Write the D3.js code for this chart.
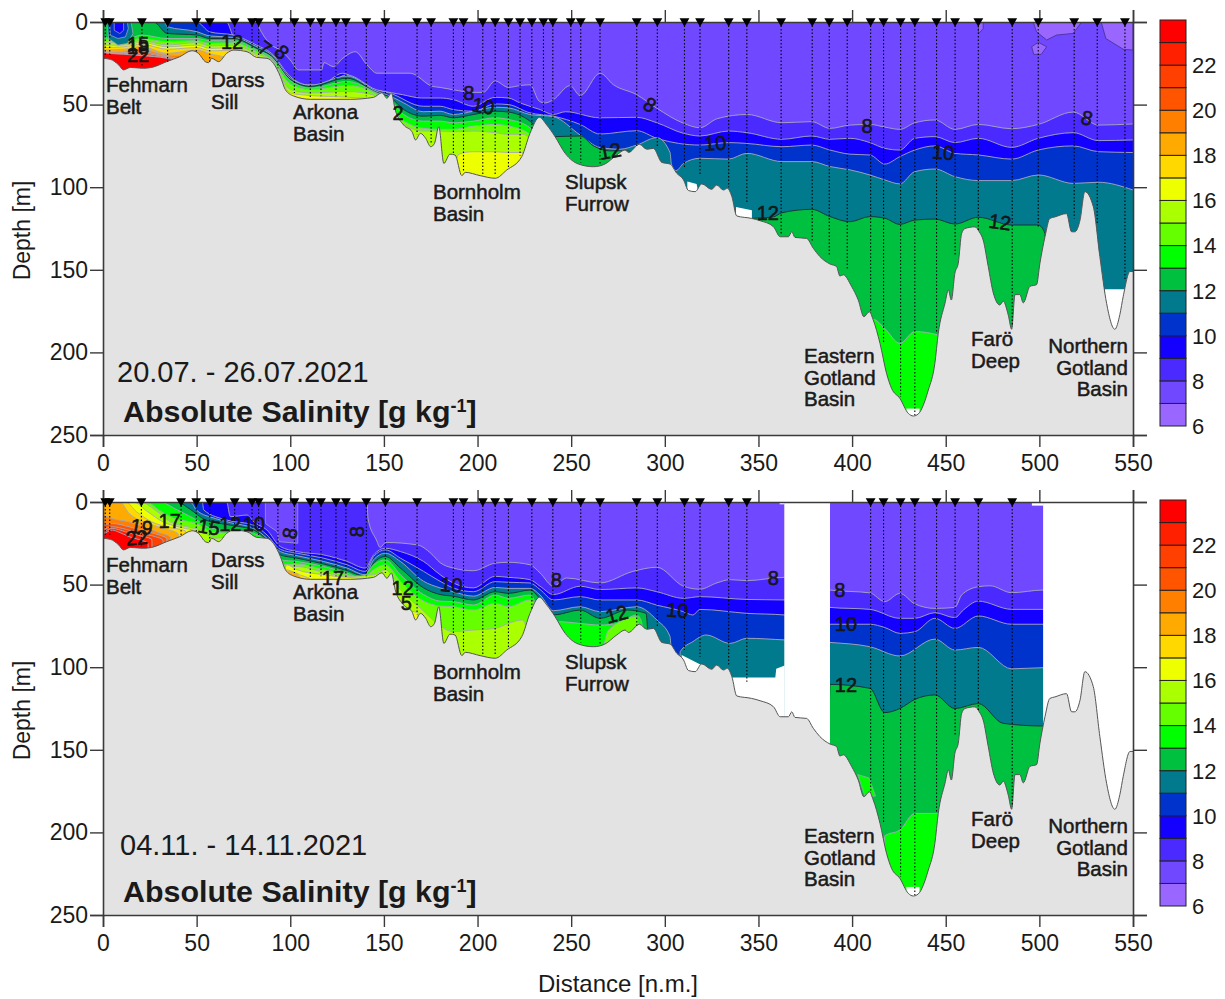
<!DOCTYPE html>
<html>
<head>
<meta charset="utf-8">
<script src="https://cdn.jsdelivr.net/npm/d3@7"></script>
<style>
body { margin: 0; background: #fff; }
text { font-family: "Liberation Sans", Arial, sans-serif; fill: #1a1a1a; }
</style>
</head>
<body>
<div id="chart"></div>
<script>
// bands of the colour scale, one per g/kg from 6 to 24
const bandColors = ["#9966ff","#7048ff","#4a2aff","#1400ff","#0033cc","#007a8c","#00c040","#00ff00","#66ff00",
    "#aaff00","#eeff00","#ffd800","#ffaa00","#ff8000","#ff5500","#ff4000","#ff2000","#ff0000"];
const legendTicks = [6,8,10,12,14,16,18,20,22];
const distTicks = [0,50,100,150,200,250,300,350,400,450,500,550];
const depthTicks = [0,50,100,150,200,250];

// sea floor [n.m., m]
const bathy = [[0,22],[3.9,22.6],[8.4,26],[11,29],[14.6,27.5],[21.7,28],[26,27.5],[34,24],[41,21],[47.5,17.4],[51,19],[54.6,24],[56.4,24.6],[58,22],[61.8,24],[66,19],[69.8,17],[76.9,18],[82,21.4],[87.6,22],[91,25],[94.7,33],[97.4,41],[101.8,44.8],[110.7,46.8],[132,46.8],[144.5,45.6],[149,42.8],[151.6,46.2],[154,43],[156,53],[160.6,62.4],[165,66.4],[166.9,71.4],[169.5,67.4],[172.3,70.4],[175,75.5],[177,73.5],[179.3,63.4],[182,85.6],[185.3,80],[188,80.5],[191.6,93],[193.4,91],[201.4,93],[209.4,94.6],[215.6,89.6],[223.6,81.5],[228,67.4],[233,57.7],[237,62.4],[241.4,69.4],[246.8,79.5],[253.9,86],[261.9,87.6],[268,86],[274.3,80.5],[278.8,77.5],[280.6,79],[286.4,74],[290.4,77],[293.9,76.5],[298.4,85],[302.8,86],[306.4,91.6],[310,95.6],[312.6,102],[316.2,102.7],[319.7,98],[325,101.3],[327.7,98.7],[331.3,101.7],[333.4,100.7],[335.8,105.7],[338.4,117.4],[346.4,118.9],[350.9,120.3],[358,123.9],[361.6,130],[366,130],[367.8,127],[369.5,130.4],[375.7,131],[379.3,137],[382.8,142],[388.2,146.5],[391.7,148],[393.5,153.8],[395.3,153],[399.7,160],[403.3,168.3],[406.3,178.4],[409.2,175.4],[411.3,180.4],[414.9,194.5],[418.4,212.7],[421.1,221.8],[425.5,227.8],[430,236.9],[432.7,238.5],[435.3,237.3],[440.7,222.8],[444.2,206.6],[446,188.5],[449.6,170.3],[451.4,162.2],[453,168.3],[454.9,152],[456.7,146],[458.5,128],[460.3,125],[465.6,124],[467.9,127],[470,132],[472.7,148],[475.4,164],[478.9,171.3],[480.7,169],[483.4,177.4],[485.2,186],[487,165],[489.6,165],[491.4,170],[495,160],[498.5,159],[500.3,146],[503,130],[505.6,118.9],[508.3,118],[514.5,116],[517.2,127],[519,127],[521.7,120],[524.3,102.7],[528.8,111.8],[532.3,142],[535.9,170.3],[540.3,186],[543,177],[544.8,166],[548.4,151],[550,151]];

// upper panel: depth of each isohaline [n.m., m]
const a8 = [[0,0],[82,0],[84,4.8],[90,14],[94.7,17],[100,23],[104.4,29],[116.7,29],[118,24.6],[123,27],[128,22],[134.7,18],[141,26],[146.3,31],[164,31],[176,39],[180,39.6],[187,41],[197.8,42.6],[203,42.6],[209.4,35.7],[216.5,39.6],[222.7,38.5],[228,38],[233,48],[236,49],[240.5,47],[249.4,38.5],[254.8,44.6],[265.4,31],[272.6,38],[285,44],[295.7,52.2],[310,61.3],[318.8,64],[328,58.5],[344,56],[362.5,61],[378.4,60.3],[388.2,64.4],[398.8,62.4],[409.5,62],[417.5,63.6],[425.5,65],[433.5,61],[444.2,59.3],[454.9,65],[467.4,62],[485.2,64.6],[499.4,62],[518.1,54.5],[531.5,62.4],[550,61.7]];
const a9 = [[0,0],[66,0],[69.8,9],[79,13],[86,18],[91.5,25],[98.5,32],[109,38],[116,38],[128,31],[141,40],[150,42],[160,44],[170,46],[180,46],[187,47],[197.8,51],[209.4,45.6],[216.5,46],[222.7,49],[233.4,53],[240.5,56],[247,54.3],[265.4,58],[285,57.7],[295.7,61],[310,67.4],[318.8,69],[334,66],[343.8,67],[362.5,71],[378.4,69],[388.2,71],[398.8,70.4],[409.5,73],[417.5,76.5],[425.5,77.5],[433.5,70.4],[444.2,69.4],[454.9,73],[467.4,70.4],[485.2,75.9],[499.4,70.4],[518.1,67],[531.5,71.8],[550,71.4]];
const a10 = [[0,0],[50,0],[57,6],[70,8],[82,14],[90,19],[100,33],[110,39],[118,39],[130,32],[146,41],[153,43],[171,51],[180,51],[187,53],[197.8,54],[209.4,49.6],[216.5,50],[228,55],[240.5,57],[254.8,62],[265.4,67.8],[285,65.8],[295.7,70.4],[318.8,74.5],[334,73],[343.8,73.5],[362.5,75.5],[378.4,74.5],[388.2,77.5],[398.8,80],[409.5,80.5],[417.5,86],[425.5,81.5],[433.5,77.5],[444.2,75],[454.9,79.5],[467.4,80.5],[485.2,83],[499.4,77.5],[518.1,75],[531.5,78.5],[550,79]];
const a11 = [[0,0],[33,0],[34.2,2.8],[50.2,5.9],[57.3,8.5],[69.8,9.3],[82.2,15],[90.2,20],[100,34],[110.7,38.3],[130.3,32.7],[146.3,42],[153.4,44.8],[160.6,49],[171,54.3],[180,54],[187,56],[197.8,54],[209.4,51.6],[216.5,52],[228,56],[240.5,57.3],[254.8,68.4],[265.4,76],[276,77],[285,74.5],[295.7,70],[302.8,79],[303.5,86],[306,90],[310,85.6],[318.8,82.5],[334,83],[343.8,79.5],[362.5,84.5],[378.4,84.5],[388.2,87.5],[398.8,89.5],[409.5,92.6],[417.5,95.6],[425.5,98],[433.5,90.6],[444.2,89],[454.9,93.6],[467.4,96],[485.2,96],[499.4,92.6],[518.1,97.7],[531.5,97],[550,101.7]];
const a12 = [[0,0],[27,0],[34.2,6.9],[50.2,7.9],[57.3,10],[69.8,10],[82.2,16],[90,20.6],[100,34.7],[110.7,39],[130.3,34],[146.3,42.8],[153.4,45.6],[160.6,53],[171,57],[180,56.5],[187,58],[197.8,56],[209.4,54],[216.5,54.5],[228,60],[233,65],[240.5,69.4],[254.8,69],[262,75],[270,78],[280,78],[286,85],[300,200],[345,200],[346.4,119],[358,118],[362.5,115.5],[378.4,113.4],[388.2,117.8],[398.8,120.9],[409.5,117.8],[417.5,118.8],[425.5,122.5],[433.5,119.9],[444.2,119.3],[454.9,122.3],[467.4,118.2],[485.2,122.9],[499.4,122.9],[503,128],[504,260],[550,260]];
const a13 = [[0,9],[11,10.9],[20.8,7.9],[34.2,10],[50.2,10],[57.3,11.3],[69.8,11.3],[82.2,17],[90,21.4],[100,35.5],[110.7,40],[130.3,36],[146.3,43],[153.4,47],[160.6,56],[171,60],[180,60],[187,61],[197.8,60],[209.4,58],[216.5,59],[228,64],[232,75],[233,260],[410,260],[411.3,180],[417.5,185.6],[425.5,194.5],[433.5,187.4],[446,189.5],[447,260],[550,260]];
const a14 = [[0,10],[11,12],[20.8,10],[34.2,12],[50.2,11.3],[57.3,13],[69.8,12.5],[82.2,18],[90,22.6],[100,37.5],[110.7,41],[130.3,38.4],[146.3,43.8],[160.6,60],[171,64.4],[180,65],[187,65],[197.8,63],[209.4,62],[216.5,63],[228,68],[233,75],[234,260],[550,260]];
const a15 = [[0,12],[11,12.9],[20.8,11.3],[34.2,13.9],[50.2,12.5],[57.3,14.5],[69.8,14],[82.2,19.4],[90,23],[100,40.8],[110.7,43],[130.3,42],[146.3,44.8],[160.6,62],[171,66],[180,66],[187,66.5],[197.8,66],[209.4,67],[216.5,68],[224,68],[233,80],[234,260],[550,260]];
const a16 = [[0,14],[11,14],[20.8,12.3],[34.2,15],[50.2,14],[57.3,16],[69.8,15.5],[82.2,20.5],[92,27],[100,43],[110.7,44.5],[130.3,45.5],[146,47],[150,60],[175,85],[180,85],[187,88],[190,80],[197.8,78.5],[209.4,78.5],[216.5,79],[224,79],[226,100],[227,260],[550,260]];
const a17 = [[0,15.5],[11,15],[20.8,13.5],[34.2,16.5],[50.2,15.5],[57.3,17.5],[69.8,17],[82,23],[92,40],[100,50],[150,60],[151,260],[550,260]];
const a18 = [[0,17],[11,16.5],[20.8,15],[34.2,19],[50.2,17],[57.3,19.3],[66,22],[70,40],[71,260],[550,260]];
const a19 = [[0,18.5],[11,17.8],[20.8,16.5],[34.2,20],[45,20.5],[50,25],[55,30],[56,260],[550,260]];
const a20 = [[0,19],[11,18.5],[20.8,18],[34.2,21],[40,22],[42,260],[550,260]];
const a21 = [[0,19.5],[11,19],[20.8,19],[34.2,21.5],[40,23],[42,260],[550,260]];
const a22 = [[0,20],[11,19.5],[20.8,20],[34.2,22],[40,23.5],[42,260],[550,260]];
const a23 = [[0,18.5],[3,19],[11,19.5],[20.8,20.4],[34.2,22],[41,24],[43,260],[550,260]];

// lower panel
const b8 = [[0,0],[141,0],[141.5,10],[146,23],[148,27.5],[151,24.5],[168,26],[175,31],[180,36.7],[187,40],[197.8,41.6],[209.4,37],[216.5,36.5],[228,38],[233.4,43],[240.5,51],[247.6,46],[265.4,49],[283,42],[295.7,39.5],[310,51],[318.8,52.8],[327.7,49],[334.9,47],[343.8,47.6],[364,45.6],[388.2,53.3],[409.5,55],[417.5,60.3],[425.5,55.3],[433.5,61.7],[444.2,64.4],[454.9,63.8],[458.5,56.3],[467.4,51.3],[473.6,50.7],[485.2,54.9],[502,53.3],[550,53.3]];
const b9 = [[0,0],[66,0],[68,8.9],[76.9,7.9],[80.5,12],[87.6,17],[94.7,27],[103.6,30],[117.8,32],[130.3,36],[140,40],[144.5,32],[150.8,28],[158.8,30],[171.2,36],[180,44],[187,49],[197.8,52],[209.4,45],[216.5,45.6],[228,47],[233.4,51],[240.5,56],[254.8,51],[265.4,53],[285,52],[295.7,54.3],[310,58.3],[318.8,57.3],[343.8,59],[364,59.3],[388.2,63.8],[409.5,65],[425.5,70.4],[433.5,70.4],[444.2,67],[454.9,70],[459.4,65.4],[467.4,60],[485.2,65],[502,65],[550,65]];
const b10 = [[0,0],[53,0],[53.8,4.8],[66,10.9],[80.5,14],[87.6,20],[94.7,28.6],[103.6,31],[117.8,34],[130.3,38],[140,42],[144.5,33],[150.8,29],[158.8,34],[171.2,42],[180,48],[187,52],[197.8,54.3],[209.4,48.2],[216.5,48.6],[228,49],[233.4,53],[240.5,59.3],[254.8,57.3],[265.4,59.3],[285,59.3],[295.7,62.4],[310,66.4],[315,68.4],[318.8,65],[343.8,67.4],[364,68.4],[388.2,74],[409.5,74],[417.5,76],[425.5,79.5],[433.5,78.5],[444.2,70.4],[454.9,76.5],[467.4,69],[485.2,74],[502,74],[550,74]];
const b11 = [[0,0],[46.6,0],[50,5],[60,10],[68,12.5],[80.5,16],[87.6,22],[94.7,30],[103.6,32.5],[117.8,36],[130.3,40],[140,44],[144.5,35],[150.8,31],[158.8,36],[171.2,48],[180,52],[187,54.3],[197.8,57],[209.4,51.7],[216.5,52.3],[228,52.3],[233.4,56.3],[240.5,65.8],[254.8,63.4],[265.4,66.4],[285,63.4],[295.7,71.4],[302.8,81.5],[304,100],[308,100],[308.2,90.6],[315,84.5],[322,80.5],[334.9,85.6],[343.8,82.5],[364,83.5],[388.2,85],[409.5,87.6],[425.5,93.2],[444.2,83],[454.9,89.6],[467.4,88],[485.2,101],[502,100.3],[550,100.3]];
const b12 = [[0,0],[39.5,0],[46,4],[55,11],[68,14],[80.5,17],[87.6,23],[94.7,32],[103.6,34],[117.8,37.5],[130.3,41.5],[140,45],[144.5,37],[150.8,33],[158.8,40],[171.2,52],[180,56],[187,57],[197.8,59.3],[209.4,54.3],[216.5,55.3],[228,53.3],[233,58],[240.5,68.4],[254.8,65.4],[265.4,70.4],[280,65.4],[290,67.4],[292,100],[340,200],[387,200],[388.2,110.4],[409.5,112.8],[417.5,127.5],[425.5,125],[433.5,119.5],[444.2,116.8],[454.9,125],[467.4,122],[480.7,134],[502,135.6],[550,135.6]];
const b13 = [[0,0],[30,0],[40,5],[50,10.9],[58,16],[68,17],[80.5,19],[88,25],[94.7,35],[103.6,36],[117.8,39],[130.3,43],[138,46],[144.5,38],[150.8,35],[158.8,44],[171.2,56],[180,60],[187,60.3],[197.8,62.4],[209.4,56.3],[216.5,58.3],[228,56.3],[231,62],[232,260],[242,260],[243,72.4],[254.8,73.5],[265.4,74.5],[275,73.5],[285,68.4],[287.5,72.4],[290,100],[400,260],[416,260],[417.5,202],[425.5,198.6],[433.5,188.5],[446,188.5],[447,260],[550,260]];
const b14 = [[0,0],[23,0],[30,5],[38,10],[50,13],[58,18],[68,19],[80,21],[88,27],[94.7,38],[103.6,37.5],[117.8,41],[130.3,44],[138,47],[144.5,41],[150.8,38],[158.8,48],[171.2,60],[180,63],[187,63.4],[197.8,65.4],[209.4,61.4],[216.5,63.4],[228,59.3],[232,65],[233.5,100],[264,100],[270,77.5],[285,69.4],[287,100],[288,260],[550,260]];
const b15 = [[0,0],[20,0],[28,5],[36,12],[45,15],[52,17],[60,22],[68,21],[80,23],[90,30],[96,40],[103.6,39],[117.8,42.5],[130.3,45],[144.5,44],[150.8,41],[158.8,53],[171.2,66],[180,75],[187,78.5],[197.8,77.5],[209.4,76.5],[216.5,73.5],[224,71.4],[229,100],[230,260],[550,260]];
const b16 = [[0,0],[16,0],[24,6],[32,12],[42,15.5],[50,18],[60,60],[92,100],[98,38],[103.6,41],[117.8,44],[124,45],[135,46],[145,48],[146,60],[160,68],[163,66],[168,67],[170,260],[550,260]];
const b17 = [[0,0],[12,0],[18,6],[26,12],[36,15.5],[44,17.5],[46,60],[94,60],[97,41],[105,44],[112,48],[113,260],[550,260]];
const b18 = [[0,0],[9,0],[14,7],[22,12],[32,16],[40,19],[42,60],[96,60],[99,42],[104,44],[108,60],[109,260],[550,260]];
const b19 = [[0,8],[5,10],[14,12],[22,15],[30,18.5],[36,21],[38,260],[550,260]];
const b20 = [[0,14],[5,13],[14,15],[22,17.5],[30,20],[34,22],[36,260],[550,260]];
const b21 = [[0,17],[5,15],[12,16.5],[20,19],[28,21],[32,23],[34,260],[550,260]];
const b22 = [[0,19],[5,16],[12,18],[20,20.5],[26,22.5],[28,260],[550,260]];
const b23 = [[0,20],[5,17],[8,18],[14,21],[20,23],[24,25],[26,260],[550,260]];

// closed water bodies: [salinity band, outline]
const aPatches = [
    [11, [[2,0],[3,10],[8,14],[13,13],[16,7],[15,0]]],
    [10, [[3.5,0],[4,8],[8,10],[12,9],[13.5,4],[13,0]]],
    [9, [[6,0],[6,5],[9,7],[11,5],[11,0]]],
    [6, [[467.4,0],[467.6,7],[470,4],[470,0]]],
    [6, [[496.7,0],[498.5,5.9],[503.9,10.9],[509.2,7.9],[518.1,6.9],[522.6,0]]],
    [6, [[495.9,15],[499.4,12.3],[503.9,15],[501,19.6],[497,19.6]]],
    [6, [[533,0],[535.5,10],[544.8,16.5],[550,17],[550,0]]]
];
const bPatches = [
    [7, [[86.7,0],[86.7,13],[93,18],[94,24],[104,25],[104,0]]],
    [13, [[403,165],[409,167],[412.5,178],[407,178.5]]]
];

// no data
const aGaps = [
    [[312,96.5],[317,98],[319,110],[312,110]],
    [[338,112],[346.5,114],[346.5,125],[338,125]],
    [[535,161.8],[546,161.8],[546,195],[535,195]],
    [[429,234],[436,234],[436,240],[429,240]]
];
const bGaps = [
    [[363.8,-2],[388.2,-2],[388.2,252],[363.8,252]],
    [[502,-2],[550,-2],[550,252],[502,252]],
    [[361.3,-2],[364,-2],[364,1.4],[361.3,1.4]],
    [[496,-2],[502,-2],[502,2.2],[496,2.2]],
    [[309,92.6],[320,99],[335.5,106.2],[359,106.2],[359.5,101],[364,99],[364,260],[309,260]],
    [[429,233],[436,233],[436,240],[429,240]]
];

// stations: position and cast depth
const aStations = [1.2,3.6,20.8,34.5,49.8,57,70.3,79.6,83.1,93.4,102.2,110.7,116.4,124.4,129.7,140.6,150.8,167.7,175.2,187.1,192.5,202.8,209.4,216.5,222.7,229,235.2,240.2,249.8,255.1,265.4,285,296,310.5,318.8,334.1,343.8,362.1,378.7,387.8,397.4,409.9,416.8,425.9,433.5,445.1,455,467.4,485.5,499.4,518.6,530.9,545.7];
const aCasts = [20,20,27,24,18,24,17,18,20,28,43,46.5,45,45,46,45,43,68,74,80,90,92,93,88,81,65,58,63,80,85,86,75,76,88,93,100,110,128,133,142,150,176,194.5,227,238,188.5,142,126,184.5,124,119,122,156];
const bStations = [1.2,3.6,20.5,41.7,49.8,57,70.3,79.6,83.1,93.4,102.2,110.7,116.4,124.4,129.7,140.6,150.8,167.7,187.1,192.5,202.8,209.4,216.5,229,240.2,255.1,265.4,285,296,310.5,318.8,334.1,343.8,409.9,416.8,425.9,433.5,445.1,455,467.4,485.5];
const bCasts = [20,20,27,20,18,24,17,18,20,28,43,46.5,45,45,46,45,43,68,80,90,92,93,88,65,63,85,86,75,76,89.6,93.6,98.7,108.8,176,194.5,227,238,188.5,142,126,184.5];

// contour labels: text, n.m., m, rotation
const aContourLabels = [["15",18.7,13,0],["18",18.7,15,0],["22",18.7,20,0],["12",68.9,12,0],["7",86.5,15.7,35],["8",95.6,18,45],["2",157.5,55,0],["8",195.4,43,0],["10",203,50.8,10],["12",270.7,78,-10],["8",292,50,30],["10",326.8,73.3,-3],["12",355,115.6,0],["8",408,63,0],["10",448.6,78.7,5],["12",479,121,8],["8",525.4,58,15]];
const bContourLabels = [["19",20.6,15,10],["22",18,21.6,-5],["17",35.6,11.3,0],["15",56.6,15,10],["12",68,13,0],["10",80.5,13,0],["8",99.7,19,-80],["8",135.6,18,-90],["17",122.8,45.6,0],["12",160,52,0],["5",162,61,0],["10",186,50,5],["8",242,46.8,0],["12",274.3,67.8,-15],["10",306.7,65.4,5],["8",358,46,0],["8",393.5,53.3,0],["10",396.7,74,0],["12",396.7,110.4,0]];

// basin names: lines, n.m., m of first baseline, anchor
const basinNames = [[["Fehmarn","Belt"],1.6,43,"start"],[["Darss","Sill"],57.7,40,"start"],[["Arkona","Basin"],101.5,59.3,"start"],[["Bornholm","Basin"],176.2,108,"start"],[["Slupsk","Furrow"],246.7,101.7,"start"],[["Eastern","Gotland","Basin"],374.3,207,"start"],[["Farö","Deep"],463.5,197,"start"],[["Northern","Gotland","Basin"],547.3,201,"end"]];

const aLines = [a8,a9,a10,a11,a12,a13,a14,a15,a16,a17,a18,a19,a20,a21,a22,a23];
const bLines = [b8,b9,b10,b11,b12,b13,b14,b15,b16,b17,b18,b19,b20,b21,b22,b23];

const width = 1225, height = 999;
const svg = d3.select("#chart").append("svg").attr("width", width).attr("height", height);
const x = d3.scaleLinear().domain([0, 550]).range([103, 1133]);

function drawPanel(o) {
    const y = d3.scaleLinear().domain([0, 250]).range([o.top, o.top + 413]);
    const g = svg.append("g");
    const clipId = "clip" + o.id;
    svg.append("clipPath").attr("id", clipId).append("rect")
        .attr("x", x(0)).attr("y", y(0)).attr("width", x(550) - x(0)).attr("height", y(250) - y(0));
    const body = g.append("g").attr("clip-path", `url(#${clipId})`);

    const area = d3.area().x(d => x(d[0])).y0(y(260)).y1(d => y(d[1])).curve(d3.curveMonotoneX);
    const line = d3.line().x(d => x(d[0])).y(d => y(d[1])).curve(d3.curveMonotoneX);
    const closed = d3.line().x(d => x(d[0])).y(d => y(d[1])).curve(d3.curveLinearClosed);

    body.append("rect").attr("x", x(0)).attr("y", y(0)).attr("width", x(550) - x(0)).attr("height", y(250) - y(0))
        .attr("fill", bandColors[1]);
    o.lines.forEach((pts, i) => {
        const level = i + 8;
        body.append("path").attr("d", area(pts)).attr("fill", bandColors[level - 6]);
        body.append("path").attr("d", line(pts)).attr("fill", "none")
            .attr("stroke", level === 12 ? "#1c2a30" : "#a9a9bb")
            .attr("stroke-width", 0.9);
    });
    o.patches.forEach(p => {
        body.append("path").attr("d", closed(p[1])).attr("fill", bandColors[p[0] - 6])
            .attr("stroke", p[0] === 6 ? "#3a2a80" : "#a9a9bb").attr("stroke-width", 0.7);
    });
    o.gaps.forEach(p => body.append("path").attr("d", closed(p)).attr("fill", "#fff"));

    // sea floor
    body.append("path").attr("d", area(bathy)).attr("fill", "#e3e3e3");
    body.append("path").attr("d", line(bathy)).attr("fill", "none").attr("stroke", "#555").attr("stroke-width", 1);

    // casts
    body.selectAll("line.cast").data(o.stations).join("line").attr("class", "cast")
        .attr("x1", d => x(d)).attr("x2", d => x(d))
        .attr("y1", y(0)).attr("y2", (d, i) => y(o.casts[i]))
        .attr("stroke", "#000").attr("stroke-width", 1.1).attr("stroke-dasharray", "1.5 2");

    // contour labels
    g.selectAll("text.contour").data(o.labels).join("text").attr("class", "contour")
        .attr("transform", d => `translate(${x(d[1])},${y(d[2])}) rotate(${d[3]})`)
        .attr("text-anchor", "middle").attr("dy", "0.36em")
        .attr("font-size", 20).attr("stroke", "#111").attr("stroke-width", 0.55).text(d => d[0]);

    // basin names
    basinNames.forEach(b => {
        const t = g.append("text").attr("text-anchor", b[3]).attr("font-size", 20.5)
            .attr("stroke", "#1a1a1a").attr("stroke-width", 0.5);
        b[0].forEach((s, i) => t.append("tspan").attr("x", x(b[1])).attr("y", y(b[2]) + i * 21.6 - 1).text(s));
    });

    // axes
    g.append("g").attr("transform", `translate(0,${y(250)})`)
        .call(d3.axisBottom(x).tickValues(distTicks).tickSize(12).tickPadding(8));
    g.append("g").attr("transform", `translate(0,${y(0)})`)
        .call(d3.axisTop(x).tickValues(distTicks).tickSize(12).tickFormat(""));
    g.append("g").attr("transform", `translate(${x(0)},0)`)
        .call(d3.axisLeft(y).tickValues(depthTicks).tickSize(13).tickPadding(2));
    g.append("g").attr("transform", `translate(${x(550)},0)`)
        .call(d3.axisRight(y).tickValues(depthTicks).tickSize(14).tickFormat(""));
    g.selectAll(".domain").attr("stroke", "#3a3a3a").attr("stroke-width", 1.6);
    g.selectAll(".tick line").attr("stroke", "#3a3a3a").attr("stroke-width", 1.4);
    g.selectAll(".tick text").attr("font-size", 23).attr("fill", "#1a1a1a")
        .attr("font-family", '"Liberation Sans", Arial, sans-serif');

    // stations on the surface
    const tri = d3.symbol().type(d3.symbolTriangle).size(42);
    g.selectAll("path.st").data(o.stations).join("path").attr("class", "st")
        .attr("d", tri).attr("fill", "#000")
        .attr("transform", d => `translate(${x(d)},${y(0) - 1}) rotate(180)`);

    g.append("text").attr("x", o.dateX).attr("y", y(0) + o.dateY).attr("font-size", 29).attr("fill", "#222").text(o.date);
    const ti = g.append("text").attr("x", 123).attr("y", y(0) + 400).attr("font-size", 30.4).attr("font-weight", "bold");
    ti.append("tspan").text("Absolute Salinity [g kg");
    ti.append("tspan").attr("font-size", 18).attr("dy", -10).text("-1");
    ti.append("tspan").attr("dy", 10).text("]");

    g.append("text").attr("transform", `translate(30,${y(125) + 2}) rotate(-90)`)
        .attr("text-anchor", "middle").attr("font-size", 23).text("Depth [m]");

    // colour legend
    const leg = d3.scaleLinear().domain([6, 24]).range([o.top + 404, o.top - 2]);
    g.selectAll("rect.band").data(bandColors).join("rect").attr("class", "band")
        .attr("x", 1160).attr("width", 26)
        .attr("y", (d, i) => leg(i + 7)).attr("height", (d, i) => leg(i + 6) - leg(i + 7))
        .attr("fill", d => d).attr("stroke", "#222").attr("stroke-width", 1);
    g.selectAll("text.legend").data(legendTicks).join("text").attr("class", "legend")
        .attr("x", 1192).attr("y", d => leg(d)).attr("dy", "0.36em").attr("font-size", 22).text(d => d);
}

drawPanel({id: "a", top: 22, lines: aLines, patches: aPatches, gaps: aGaps, stations: aStations, casts: aCasts,
    labels: aContourLabels, date: "20.07. - 26.07.2021", dateX: 117, dateY: 360});
drawPanel({id: "b", top: 502, lines: bLines, patches: bPatches, gaps: bGaps, stations: bStations, casts: bCasts,
    labels: bContourLabels, date: "04.11. - 14.11.2021", dateX: 120, dateY: 353});

svg.append("text").attr("x", 618).attr("y", 992).attr("text-anchor", "middle").attr("font-size", 24).text("Distance [n.m.]");
</script>
</body>
</html>
